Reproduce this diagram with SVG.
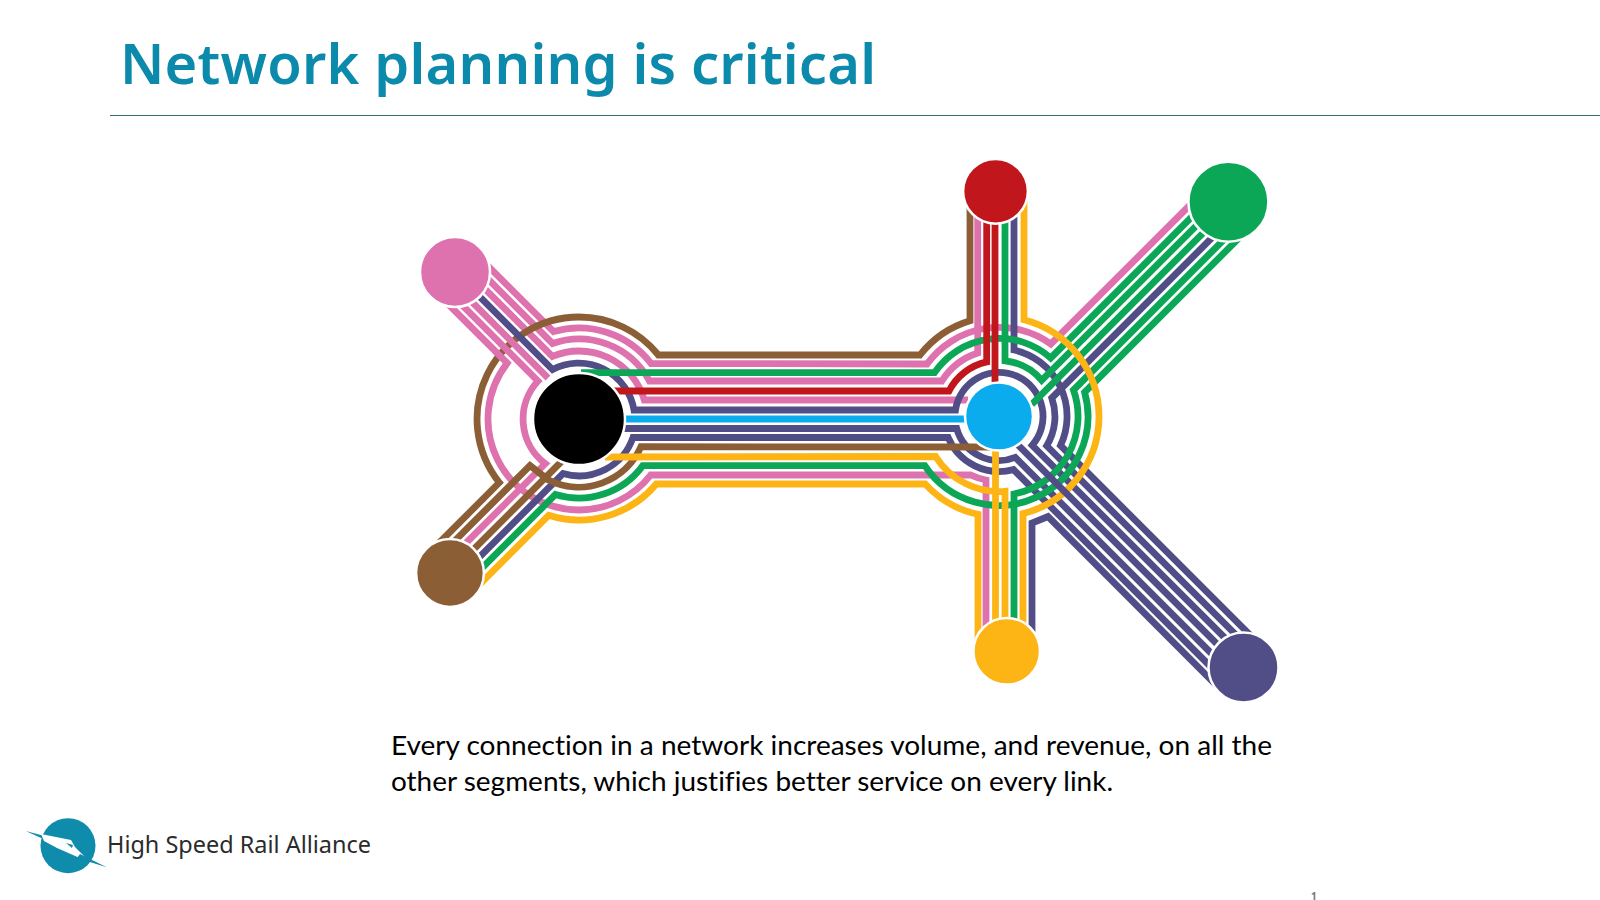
<svg xmlns="http://www.w3.org/2000/svg" width="1600" height="900" viewBox="0 0 1600 900">
<style>
.l{fill:none;stroke-width:6.8;stroke-linejoin:miter}
.pk{stroke:#DE72AE}.br{stroke:#8C5E36}.gr{stroke:#0BA757}.rd{stroke:#C0161C}.nv{stroke:#514E87}.bl{stroke:#0BACEE}.yl{stroke:#FDB515}
.n{stroke:#fff;stroke-width:2.5}
</style>
<rect width="1600" height="900" fill="#fff"/>
<text id="title" x="120" y="84" font-family="Noto Sans, sans-serif" font-weight="600" font-size="56" fill="#0C8AAB" textLength="756" lengthAdjust="spacing">Network planning is critical</text>
<line x1="110" y1="115.5" x2="1600" y2="115.5" stroke="#2F6F7E" stroke-width="1.2"/>
<g id="connectors">
<path class="l pk" d="M474.5 252.5L553.6 331.6A91 91 0 0 1 651 363.5L927 364A89 89 0 0 1 1050.8 344L1193 202"/>
<path class="l pk" d="M468 259L552.6 343.5A80 80 0 0 1 649.4 381L941.9 381A67 67 0 0 1 977.7 353L977.7 200"/>
<path class="l pk" d="M461.5 265.5L552.4 356.4A68 68 0 0 1 644.3 400L968 400"/>
<path class="l br" d="M436 546L499.3 482.6A102 102 0 0 1 579 317A102 102 0 0 1 658.4 355L920 355A100 100 0 0 1 970 320.7L970 200"/>
<path class="l pk" d="M435.5 291.5L507.2 363.1A91 91 0 0 0 579 510A91 91 0 0 0 650.7 475L970.7 475A65 65 0 0 0 986 480L986 640"/>
<path class="l pk" d="M442 285L538 381A56 56 0 0 0 545.3 463.7L462 547"/>
<path class="l pk" d="M448.5 278.5L548 378"/>
<path class="l nv" d="M455 272L552.6 369.6A56 56 0 0 1 634 410L955.5 410A44 44 0 1 1 1032.2 445.3L1247 660"/>
<path class="l nv" d="M624 428.5L956.7 428.5A44 44 0 0 0 1015.3 457.4L1233 675"/>
<path class="l nv" d="M457 579.5L563 473.5A57 57 0 0 0 633 437.5L948.2 437.5A55 55 0 0 0 1013.5 469.6L1226 682"/>
<path class="l nv" d="M1014 195L1014 350A68 68 0 0 1 1060.5 445.5L1261.7 646.7"/>
<path class="l nv" d="M1238 211.7L1051.8 398A56 56 0 0 1 1046.7 445.8L1254.7 653.7"/>
<path class="l nv" d="M1032 640L1032 523L1048 516.5L1219.7 688.7"/>
<path class="l br" d="M443 552.6L530 465.6L548.5 480A68 68 0 0 0 641 446.7L990 447"/>
<path class="l br" d="M450 573L563 460"/>
<path class="l gr" d="M581 372.7L934.5 372.7A78 78 0 0 1 1050.7 358L1217.5 191.2"/>
<path class="l gr" d="M1005 195L1005 360.8A56 56 0 0 1 1041.7 380.3L1224.2 197.9"/>
<path class="l gr" d="M1231.2 204.9L1031.7 404.3"/>
<path class="l rd" d="M612 391L949 391A56 56 0 0 1 986.7 361.9L986.7 195"/>
<path class="l rd" d="M995 190L995 383"/>
<path class="l bl" d="M625 419L966 419"/>
<path class="l gr" d="M463.5 586.5L555.5 494.4A79 79 0 0 0 642.7 465.7L924.8 465.7A89 89 0 0 0 1084.6 392.3L1251 226"/>
<path class="l gr" d="M1244.9 218.6L1073.5 390A79 79 0 0 1 1014 494L1014 645"/>
<path class="l yl" d="M1024 200L1024 319.7A100 100 0 0 1 1023 513.6L1023 640"/>
<path class="l yl" d="M605 457L935.6 456.5A75 75 0 0 0 1005 491.3L1005 640"/>
<path class="l yl" d="M995.5 450L995.5 640"/>
<path class="l yl" d="M470 594L548.6 515.3A101 101 0 0 0 656.3 484L925.2 484A100 100 0 0 0 978 514.3L978 645"/>
<path class="l nv" d="M1018 445L1241 668"/>
</g>
<g id="node-pink"><circle class="n" cx="455" cy="272" r="35" fill="#DE72AE"/></g>
<g id="node-brown"><circle class="n" cx="450" cy="573" r="33.9" fill="#8C5E36"/></g>
<g id="node-black"><circle class="n" cx="579" cy="419" r="46" fill="#000"/></g>
<g id="node-blue"><circle class="n" cx="999" cy="416.5" r="34" fill="#0BACEE"/></g>
<g id="node-red"><circle class="n" cx="995.5" cy="191.3" r="32.4" fill="#C0161C"/></g>
<g id="node-green"><circle class="n" cx="1228.4" cy="201.7" r="40" fill="#0BA757"/></g>
<g id="node-yellow"><circle class="n" cx="1006.7" cy="651.3" r="33.3" fill="#FDB515"/></g>
<g id="node-navy"><circle class="n" cx="1243.5" cy="667.5" r="35" fill="#514E87"/></g>
<g id="caption" font-family="Lato, sans-serif" font-size="27.5" fill="#000" style="font-variant-ligatures:none">
<text x="391" y="755" textLength="881" lengthAdjust="spacingAndGlyphs">Every connection in a network increases volume, and revenue, on all the</text>
<text x="391" y="790.5" textLength="722" lengthAdjust="spacingAndGlyphs">other segments, which justifies better service on every link.</text>
</g>
<g id="logo">
<circle cx="68" cy="845.7" r="27.5" fill="#0F8BAB"/>
<path d="M25.7 831L52 838L50 842Z" fill="#0F8BAB"/>
<path d="M41 834L71 840L75 847L85 857L82 859L57 848L44 841Z" fill="#fff"/>
<path d="M66 843L73 845L72 848Z" fill="#0F8BAB"/>
<path d="M80 854L106.7 867.3L77 858Z" fill="#0F8BAB"/>
<text x="107" y="853" font-family="Noto Sans, sans-serif" font-size="23" fill="#2b2b2b" textLength="264" lengthAdjust="spacingAndGlyphs">High Speed Rail Alliance</text>
</g>
<text id="page" x="1311" y="899.5" font-family="Noto Sans, sans-serif" font-size="10" font-weight="700" fill="#777">1</text>
</svg>
